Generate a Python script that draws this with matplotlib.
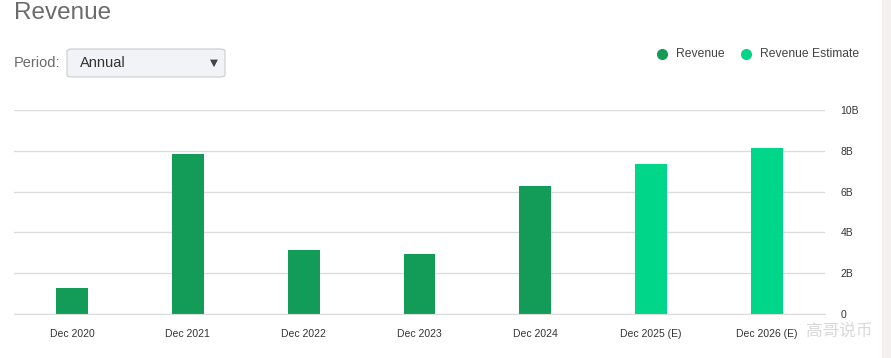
import matplotlib.pyplot as plt
from matplotlib.patches import FancyBboxPatch, Rectangle
from matplotlib.lines import Line2D

plt.rcParams['font.family'] = ['Liberation Sans', 'DejaVu Sans']

categories = ['Dec 2020', 'Dec 2021', 'Dec 2022', 'Dec 2023', 'Dec 2024', 'Dec 2025 (E)', 'Dec 2026 (E)']
revenue = [1.27, 7.84, 3.14, 2.94, 6.27, 7.35, 8.14]
is_estimate = [False, False, False, False, False, True, True]
ytick_vals = [0, 2, 4, 6, 8, 10]
ytick_labels = ['0', '2B', '4B', '6B', '8B', '10B']

GREEN = '#139c57'
EST = '#00d68a'
W, H = 891, 358

fig = plt.figure(figsize=(W / 100, H / 100), dpi=100)
fig.patch.set_facecolor('white')

# right gray strip
fig.patches.append(Rectangle((882 / W, 0), 9 / W, 1, transform=fig.transFigure,
                             facecolor='#f4f0ef', edgecolor='none'))

ax = fig.add_axes([14 / W, (H - 314) / H, 811 / W, 204 / H])
x = list(range(len(categories)))
colors = [EST if e else GREEN for e in is_estimate]
ax.bar(x, revenue, width=0.276, color=colors, zorder=3)
ax.set_xlim(-0.5, len(categories) - 0.5)
ax.set_ylim(0, 10)
ax.set_yticks(ytick_vals)
ax.set_yticklabels(ytick_labels)
ax.yaxis.tick_right()
ax.grid(axis='y', color='#dcdcdc', linewidth=1, zorder=0)
ax.set_xticks(x)
ax.set_xticklabels(categories)
ax.tick_params(axis='x', length=0, pad=11, labelsize=7.5, labelcolor='#333333')
ax.tick_params(axis='y', length=0, pad=11, labelsize=7.5, labelcolor='#333333')
for s in ['top', 'left', 'right']:
    ax.spines[s].set_visible(False)
ax.spines['bottom'].set_color('#dcdcdc')
ax.spines['bottom'].set_zorder(4)

# title and period selector
fig.text(14 / W, 1 - 13 / H, 'Revenue', fontsize=17.5, color='#6b6b6b', va='center', ha='left')
fig.text(14 / W, 1 - 63 / H, 'Period:', fontsize=10.5, color='#6b6b6b', va='center', ha='left')
fig.patches.append(FancyBboxPatch((67 / W, 1 - 77 / H), 158 / W, 28 / H,
                                  boxstyle='round,pad=0,rounding_size=0.006',
                                  transform=fig.transFigure, facecolor='#f2f3f6',
                                  edgecolor='#cccccc', linewidth=0.8))
fig.text(80 / W, 1 - 63 / H, 'Annual', fontsize=10.5, color='#333333', va='center', ha='left')
fig.text(214 / W, 1 - 63 / H, '▼', fontsize=7.5, color='#444444', va='center', ha='center',
         family='DejaVu Sans')

# legend
for cx, tx, col, label in [(662, 676, GREEN, 'Revenue'), (746, 760, EST, 'Revenue Estimate')]:
    fig.add_artist(Line2D([cx / W], [1 - 54 / H], marker='o', markersize=7,
                          color=col, linestyle='none', transform=fig.transFigure))
    fig.text(tx / W, 1 - 54 / H, label, fontsize=8.7, color='#444444', va='center', ha='left')

# watermark
fig.text(806 / W, 1 - 331 / H, '高哥说币', fontsize=12, color='#cfcfcf', alpha=0.8,
         va='center', ha='left', family=['Noto Sans CJK SC', 'DejaVu Sans'])

fig.savefig('out.png', dpi=100)
